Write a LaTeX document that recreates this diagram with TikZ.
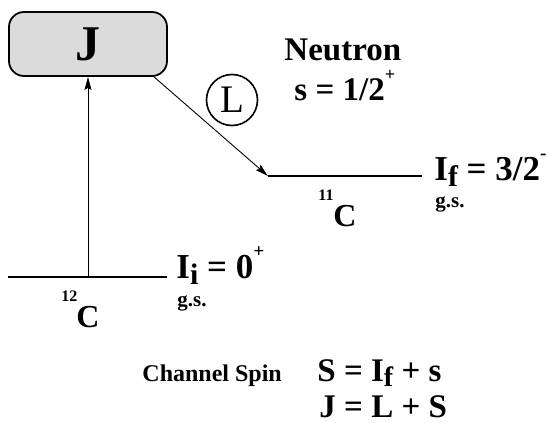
\documentclass[tikz,border=0pt]{standalone}
\usepackage{fontspec}
\setmainfont{Liberation Serif}
\usetikzlibrary{positioning, arrows.meta}
\newcommand{\lowidx}[1]{\raisebox{-0.18em}{\scalebox{0.85}{#1}}}
\newcommand{\parity}[1]{\raisebox{0.6em}{\scalebox{0.55}{#1}}}
\tikzset{
  big/.style={font=\bfseries\fontsize{33}{33}\selectfont, inner sep=0pt, anchor=base west},
  gs/.style={font=\bfseries\fontsize{21}{21}\selectfont, inner sep=0pt, anchor=base west},
  mass/.style={font=\bfseries\fontsize{16}{16}\selectfont, inner sep=0pt, anchor=base west},
  nucl/.style={font=\bfseries\fontsize{32}{32}\selectfont, inner sep=0pt, anchor=base west},
  level/.style={line width=2pt},
  jbox/.style={draw, line width=1.8pt, rounded corners=15pt, fill=gray!28,
    minimum width=158pt, minimum height=64pt, font=\bfseries\fontsize{50}{50}\selectfont},
}
\begin{document}
\begin{tikzpicture}[x=1pt, y=-1pt, >={Stealth[length=13pt, width=7pt, inset=2pt]}, line width=0.9pt]
    \useasboundingbox (0,0) rectangle (547,423);
    \node[jbox] (J) at (88,44) {J};

    % levels
    \coordinate (ia) at (8,277);
    \coordinate (ib) at (167,277);
    \coordinate (im) at (88,277);
    \coordinate (fa) at (268,176);
    \coordinate (fb) at (422,176);
    \coordinate (jc) at (153,76);
    \draw[level] (ia) -- (ib);
    \draw[level] (fa) -- (fb);

    \draw[->] (im) -- (J.south);
    \draw[->] (jc) -- (fa);

    \node[draw, circle, line width=1.6pt, minimum size=51pt, inner sep=0pt,
      font=\fontsize{39}{39}\selectfont] (L) at (232,100) {L};

    \node[big] (neutron) at (284,60) {Neutron};
    \node[big] (s) at (294,100) {s = 1/2\parity{+}};

    \node[big, font=\bfseries\fontsize{35}{35}\selectfont] (If) at (434,180) {I\lowidx{f} = 3/2\parity{-}};
    \node[gs] (gsf) at (435,207) {g.s.};
    \node[mass] (af) at (318,200) {11};
    \node[nucl] (cf) at (333,226) {C};

    \node[big, font=\bfseries\fontsize{35}{35}\selectfont] (Ii) at (176,278) {I\lowidx{i} = 0\parity{+}};
    \node[gs] (gsi) at (177,306) {g.s.};
    \node[mass] (ai) at (61,301) {12};
    \node[nucl] (ci) at (76,327) {C};

    \node[big, font=\bfseries\fontsize{24}{24}\selectfont] (chan) at (142,381) {Channel Spin};
    \node[big] (eqS) at (317,381) {S = I\lowidx{f} + s};
    \node[big] (eqJ) at (319,417) {J = L + S};
\end{tikzpicture}
\end{document}
